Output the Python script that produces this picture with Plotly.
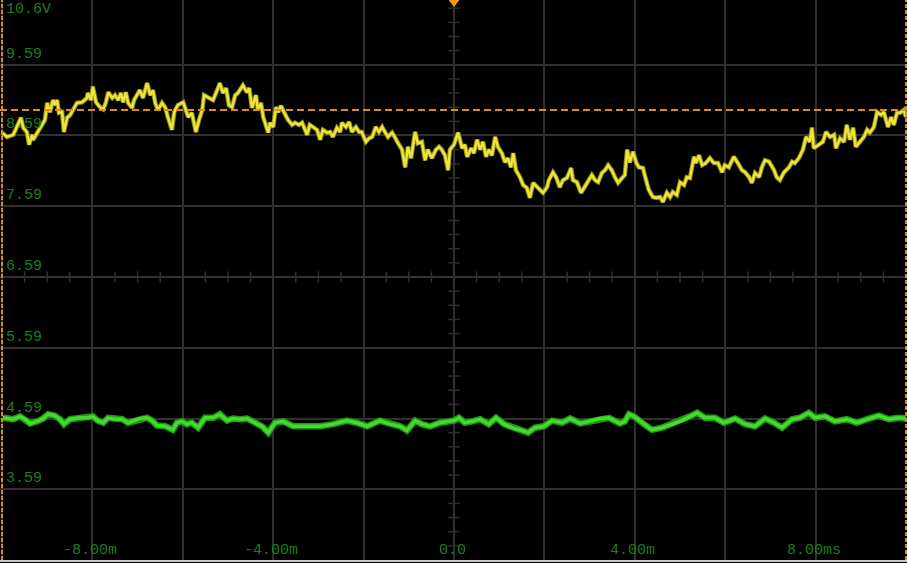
import numpy as np
import plotly.graph_objects as go

# ---------------- data ----------------
# Channel 1 (yellow) : time in ms, voltage in V
CH1_T = [-10.00, -9.89, -9.75, -9.64, -9.58, -9.53, -9.45, -9.40, -9.33, -9.31, -9.22, -9.11, -9.05, -9.00,
         -8.94, -8.87, -8.83, -8.78, -8.74, -8.67, -8.63, -8.56, -8.49, -8.43, -8.34, -8.23, -8.12, -8.10,
         -8.03, -7.99, -7.92, -7.83, -7.76, -7.70, -7.65, -7.56, -7.50, -7.43, -7.37, -7.32, -7.26, -7.21,
         -7.12, -7.08, -7.01, -6.95, -6.88, -6.79, -6.72, -6.66, -6.61, -6.55, -6.46, -6.39, -6.33, -6.24,
         -6.19, -6.11, -5.99, -5.95, -5.88, -5.80, -5.71, -5.64, -5.57, -5.53, -5.44, -5.33, -5.24, -5.18,
         -5.11, -5.04, -4.98, -4.91, -4.84, -4.78, -4.67, -4.58, -4.53, -4.47, -4.38, -4.34, -4.27, -4.22,
         -4.11, -4.07, -4.00, -3.94, -3.89, -3.83, -3.76, -3.67, -3.58, -3.52, -3.43, -3.36, -3.25, -3.19,
         -3.12, -3.03, -2.96, -2.90, -2.81, -2.74, -2.68, -2.59, -2.52, -2.48, -2.39, -2.32, -2.26, -2.17,
         -2.10, -2.04, -1.95, -1.88, -1.81, -1.73, -1.66, -1.59, -1.53, -1.46, -1.37, -1.31, -1.24, -1.15,
         -1.08, -1.02, -0.95, -0.86, -0.80, -0.71, -0.64, -0.58, -0.49, -0.40, -0.33, -0.27, -0.20, -0.13,
         -0.09, 0.00, 0.09, 0.18, 0.24, 0.29, 0.38, 0.44, 0.51, 0.58, 0.64, 0.71, 0.77, 0.84,
         0.91, 0.97, 1.06, 1.13, 1.19, 1.26, 1.31, 1.37, 1.46, 1.53, 1.61, 1.68, 1.75, 1.84,
         1.90, 1.97, 2.06, 2.10, 2.19, 2.26, 2.34, 2.41, 2.50, 2.59, 2.63, 2.72, 2.81, 2.88,
         2.94, 3.05, 3.12, 3.19, 3.27, 3.34, 3.41, 3.49, 3.56, 3.63, 3.72, 3.78, 3.83, 3.89,
         3.96, 4.03, 4.09, 4.18, 4.25, 4.31, 4.40, 4.47, 4.56, 4.62, 4.71, 4.78, 4.84, 4.93,
         5.00, 5.09, 5.15, 5.22, 5.31, 5.35, 5.42, 5.49, 5.57, 5.66, 5.75, 5.84, 5.93, 5.99,
         6.08, 6.19, 6.28, 6.37, 6.44, 6.53, 6.59, 6.66, 6.75, 6.81, 6.88, 6.97, 7.08, 7.14,
         7.21, 7.30, 7.41, 7.48, 7.54, 7.63, 7.72, 7.79, 7.87, 7.92, 7.96, 8.07, 8.16, 8.23,
         8.32, 8.41, 8.45, 8.54, 8.63, 8.69, 8.76, 8.83, 8.89, 8.98, 9.07, 9.14, 9.20, 9.29,
         9.36, 9.45, 9.51, 9.60, 9.67, 9.73, 9.80, 9.87, 9.95, 10.00]
CH1_V = [8.63, 8.57, 8.60, 8.77, 8.84, 8.70, 8.64, 8.46, 8.60, 8.53, 8.63, 8.74, 8.81, 9.05,
         8.92, 9.09, 9.02, 9.09, 8.91, 8.92, 8.64, 8.84, 8.88, 8.95, 9.05, 9.06, 9.12, 9.19,
         9.09, 9.28, 9.06, 8.99, 8.96, 9.06, 9.20, 9.12, 9.16, 9.09, 9.19, 9.06, 9.20, 9.05,
         8.98, 9.09, 9.16, 9.23, 9.12, 9.33, 9.16, 9.23, 9.05, 8.95, 9.05, 8.99, 8.85, 8.67,
         8.92, 9.02, 9.06, 8.98, 8.85, 8.91, 8.64, 8.81, 8.95, 9.16, 9.13, 9.09, 9.23, 9.33,
         9.19, 9.26, 9.02, 8.99, 9.16, 9.19, 9.30, 9.20, 9.26, 8.98, 9.16, 8.95, 9.05, 8.85,
         8.63, 8.77, 8.71, 8.99, 8.92, 9.01, 8.92, 8.81, 8.74, 8.77, 8.74, 8.77, 8.60, 8.74,
         8.71, 8.67, 8.53, 8.67, 8.63, 8.64, 8.57, 8.70, 8.64, 8.77, 8.71, 8.78, 8.64, 8.71,
         8.64, 8.64, 8.50, 8.55, 8.57, 8.71, 8.64, 8.71, 8.64, 8.57, 8.63, 8.57, 8.48, 8.39,
         8.14, 8.43, 8.27, 8.64, 8.48, 8.50, 8.24, 8.39, 8.27, 8.39, 8.43, 8.39, 8.31, 8.10,
         8.39, 8.46, 8.63, 8.41, 8.46, 8.29, 8.41, 8.34, 8.53, 8.39, 8.50, 8.29, 8.39, 8.31,
         8.57, 8.43, 8.34, 8.21, 8.27, 8.14, 8.34, 8.10, 8.00, 7.89, 7.85, 7.71, 7.92, 7.86,
         7.82, 7.78, 7.86, 7.96, 8.07, 8.00, 7.86, 7.96, 7.99, 8.13, 7.96, 7.93, 7.78, 7.85,
         7.92, 8.03, 7.96, 7.93, 8.06, 8.10, 8.17, 8.10, 8.00, 7.92, 7.99, 8.03, 8.39, 8.21,
         8.36, 8.21, 8.14, 8.13, 7.96, 7.82, 7.72, 7.71, 7.72, 7.65, 7.78, 7.72, 7.79, 7.75,
         7.93, 7.89, 8.00, 7.99, 8.29, 8.20, 8.31, 8.17, 8.20, 8.27, 8.20, 8.20, 8.07, 8.17,
         8.14, 8.29, 8.20, 8.10, 8.07, 8.00, 7.92, 8.06, 8.00, 8.14, 8.24, 8.22, 8.10, 8.00,
         7.96, 8.07, 8.14, 8.22, 8.20, 8.27, 8.39, 8.57, 8.50, 8.70, 8.41, 8.46, 8.50, 8.64,
         8.57, 8.60, 8.41, 8.55, 8.50, 8.74, 8.53, 8.70, 8.43, 8.50, 8.57, 8.67, 8.63, 8.71,
         8.92, 8.88, 8.92, 8.71, 8.85, 8.74, 8.91, 8.91, 8.95, 8.85]

# Channel 2 (green)
CH2_T = [-9.98, -9.75, -9.60, -9.49, -9.38, -9.22, -9.09, -8.98, -8.83, -8.72, -8.63, -8.49, -8.27, -8.10,
         -7.99, -7.88, -7.76, -7.65, -7.50, -7.34, -7.21, -7.10, -6.95, -6.79, -6.68, -6.57, -6.39, -6.22,
         -6.13, -6.02, -5.91, -5.80, -5.66, -5.51, -5.33, -5.18, -5.02, -4.89, -4.73, -4.58, -4.45, -4.25,
         -4.11, -3.96, -3.78, -3.56, -3.25, -2.96, -2.68, -2.37, -2.15, -1.92, -1.64, -1.42, -1.19, -1.04,
         -0.86, -0.71, -0.53, -0.31, -0.13, 0.00, 0.11, 0.24, 0.40, 0.58, 0.77, 0.93, 1.11, 1.28,
         1.46, 1.64, 1.79, 1.99, 2.17, 2.39, 2.57, 2.79, 2.99, 3.21, 3.43, 3.67, 3.78, 3.87,
         3.98, 4.16, 4.38, 4.60, 4.82, 5.04, 5.22, 5.38, 5.55, 5.77, 5.97, 6.22, 6.44, 6.66,
         6.88, 7.08, 7.26, 7.48, 7.65, 7.85, 7.99, 8.21, 8.43, 8.69, 8.91, 9.18, 9.40, 9.62,
         9.84, 10.00]
CH2_V = [4.60, 4.58, 4.62, 4.58, 4.52, 4.55, 4.59, 4.65, 4.63, 4.58, 4.51, 4.58, 4.60, 4.60,
         4.62, 4.56, 4.53, 4.60, 4.58, 4.58, 4.53, 4.55, 4.59, 4.60, 4.56, 4.49, 4.48, 4.43,
         4.53, 4.55, 4.51, 4.53, 4.46, 4.60, 4.60, 4.65, 4.56, 4.59, 4.58, 4.59, 4.55, 4.48,
         4.39, 4.53, 4.55, 4.48, 4.48, 4.48, 4.51, 4.56, 4.53, 4.48, 4.56, 4.51, 4.48, 4.42,
         4.56, 4.51, 4.48, 4.53, 4.55, 4.56, 4.60, 4.53, 4.55, 4.58, 4.51, 4.60, 4.51, 4.46,
         4.43, 4.39, 4.46, 4.48, 4.56, 4.53, 4.59, 4.52, 4.55, 4.59, 4.60, 4.52, 4.55, 4.65,
         4.62, 4.53, 4.43, 4.46, 4.51, 4.56, 4.62, 4.67, 4.60, 4.60, 4.53, 4.59, 4.51, 4.48,
         4.59, 4.53, 4.46, 4.58, 4.60, 4.67, 4.60, 4.62, 4.55, 4.58, 4.53, 4.59, 4.63, 4.58,
         4.60, 4.59]

TRIG_LEVEL = 8.95          # V (orange dashed line)
TRIG_TIME = 0.0            # ms (orange marker at top)
X_TICK_VALUES = [-8, -4, 0, 4, 8]
X_TICK_LABELS = ["-8.00m", "-4.00m", "0.0", "4.00m", "8.00ms"]
Y_LABEL_VALUES = [9.59, 8.59, 7.59, 6.59, 5.59, 4.59, 3.59]
Y_LABELS = ["9.59", "8.59", "7.59", "6.59", "5.59", "4.59", "3.59"]
TOP_LABEL = "10.6V"
CENTER_V = 6.59

# ---------------- styling ----------------
W, H = 907, 563
GRID = "#303030"
LABEL_GREEN = "#1f7d1f"
ORANGE = "#e08a1e"
FONT = "Liberation Mono"

X_RANGE = [-10.044, 10.022]
Y_RANGE = [2.59, 10.505]

fig = go.Figure()

# minor ticks on the centre cross
minor_y = np.arange(2.79, 10.5, 0.2)
minor_x = np.arange(-9.5, 10.0, 0.5)
fig.add_trace(go.Scatter(x=np.zeros_like(minor_y), y=minor_y, mode="markers",
                         marker=dict(symbol="line-ew", size=8, line=dict(color=GRID, width=1.5)),
                         hoverinfo="skip", showlegend=False))
fig.add_trace(go.Scatter(x=minor_x, y=np.full_like(minor_x, CENTER_V), mode="markers",
                         marker=dict(symbol="line-ns", size=8, line=dict(color=GRID, width=1.5)),
                         hoverinfo="skip", showlegend=False))

# channel 2 (green)
fig.add_trace(go.Scatter(x=CH2_T, y=CH2_V, mode="lines",
                         line=dict(color="#229a16", width=6.5), hoverinfo="skip", showlegend=False))
fig.add_trace(go.Scatter(x=CH2_T, y=CH2_V, mode="lines",
                         line=dict(color="#42dc2c", width=3.5), showlegend=False))

# channel 1 (yellow)
fig.add_trace(go.Scatter(x=CH1_T, y=CH1_V, mode="lines",
                         line=dict(color="#8f8a1c", width=4.5), hoverinfo="skip", showlegend=False))
fig.add_trace(go.Scatter(x=CH1_T, y=CH1_V, mode="lines",
                         line=dict(color="#eee53a", width=2.5), showlegend=False))

# trigger level & edge markers
fig.add_hline(y=TRIG_LEVEL, line=dict(color=ORANGE, width=2, dash="7px,4px"))
fig.add_vline(x=-10, line=dict(color=ORANGE, width=2, dash="4px,2px"))
fig.add_vline(x=10, line=dict(color=ORANGE, width=2, dash="4px,2px"))

# trigger position marker
fig.add_trace(go.Scatter(x=[TRIG_TIME], y=[10.49], mode="markers", cliponaxis=False,
                         marker=dict(symbol="triangle-down", size=12, color="#f7961e"),
                         hoverinfo="skip", showlegend=False))

annotations = []
for v, txt in zip(Y_LABEL_VALUES, Y_LABELS):
    annotations.append(dict(x=0.004, xref="paper", y=v, yref="y", text=txt, showarrow=False,
                            xanchor="left", yanchor="bottom", yshift=0,
                            font=dict(family=FONT, size=15, color=LABEL_GREEN)))
annotations.append(dict(x=0.004, xref="paper", y=1.0, yref="paper", text=TOP_LABEL, showarrow=False,
                        xanchor="left", yanchor="top", yshift=1,
                        font=dict(family=FONT, size=15, color=LABEL_GREEN)))
for t, txt in zip(X_TICK_VALUES, X_TICK_LABELS):
    annotations.append(dict(x=t, xref="x", y=Y_RANGE[0], yref="y", text=txt, showarrow=False,
                            xanchor="center", yanchor="bottom", xshift=-2, yshift=-1,
                            font=dict(family=FONT, size=15, color=LABEL_GREEN)))

fig.update_layout(
    width=W, height=H,
    margin=dict(l=0, r=0, t=0, b=0),
    paper_bgcolor="#000000", plot_bgcolor="#000000",
    xaxis=dict(range=X_RANGE, domain=[0, 1], showgrid=True, gridcolor=GRID, gridwidth=2,
               tick0=0, dtick=2, showticklabels=False, zeroline=False, ticks="",
               showline=True, linecolor="#c8c8c8", linewidth=2, fixedrange=True),
    yaxis=dict(range=Y_RANGE, domain=[3 / H, 1], showgrid=True, gridcolor=GRID, gridwidth=2,
               tick0=0.59, dtick=1, showticklabels=False, zeroline=False, ticks="",
               showline=False, fixedrange=True),
    annotations=annotations,
    showlegend=False,
)

fig.write_html("out.html")
